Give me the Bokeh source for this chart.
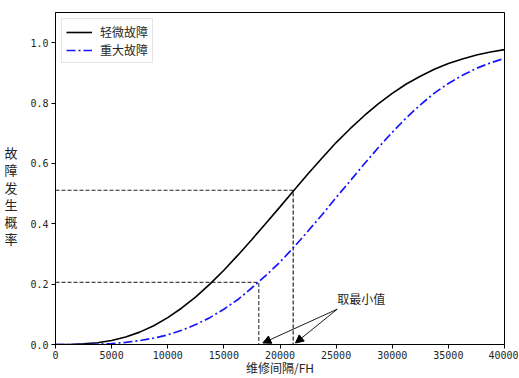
from bokeh.plotting import figure
from bokeh.models import (Range1d, Label, Arrow, NormalHead, Legend, LegendItem,
                          FixedTicker, PrintfTickFormatter, ColumnDataSource)
from bokeh.embed import file_html
from bokeh.resources import INLINE

# ---------------- data ----------------
interval = [0, 1250, 2500, 3750, 5000, 6250, 7500, 8750, 10000, 11250, 12500,
            13750, 15000, 16250, 17500, 18750, 20000, 21250, 22500, 23750, 25000,
            26250, 27500, 28750, 30000, 31250, 32500, 33750, 35000, 36250, 37500,
            38750, 40000]
minor_fault = [0.0, 0.000, 0.002, 0.006, 0.013, 0.025, 0.041, 0.062, 0.089, 0.121,
               0.158, 0.200, 0.246, 0.296, 0.348, 0.402, 0.456, 0.511, 0.566, 0.618,
               0.669, 0.715, 0.758, 0.797, 0.832, 0.863, 0.889, 0.912, 0.931, 0.946,
               0.959, 0.969, 0.977]
major_fault = [0.0, 0.000, 0.000, 0.001, 0.003, 0.007, 0.013, 0.021, 0.032, 0.047,
               0.066, 0.089, 0.117, 0.149, 0.188, 0.229, 0.273, 0.323, 0.376, 0.430,
               0.487, 0.542, 0.598, 0.652, 0.703, 0.751, 0.794, 0.833, 0.865, 0.892,
               0.915, 0.933, 0.948]
series_names = ["轻微故障", "重大故障"]

mark_x = [18110, 21175]          # chosen intervals (dashed guides)
mark_y = [0.206, 0.511]          # probabilities at these intervals
arrow_tip_x = [18470, 21380]
arrow_tip_y = [0.005, 0.005]
note_text = "取最小值"
note_x = 25100
note_y = 0.117

x_ticks = [0, 5000, 10000, 15000, 20000, 25000, 30000, 35000, 40000]
y_ticks = [0.0, 0.2, 0.4, 0.6, 0.8, 1.0]
x_title = "维修间隔/FH"
y_title = "故障发生概率"

CJK = "Noto Sans CJK SC"
NUM = "DejaVu Sans Mono"

p = figure(width=518, height=378, output_backend="svg", toolbar_location=None,
           x_range=Range1d(0, 40000), y_range=Range1d(0, 1.1),
           min_border_left=55, min_border_right=14, min_border_top=12,
           min_border_bottom=34)

p.xgrid.visible = False
p.ygrid.visible = False
p.outline_line_color = "black"
p.outline_line_width = 1
p.background_fill_color = "white"
p.border_fill_color = "white"

for ax in (p.xaxis[0], p.yaxis[0]):
    ax.axis_line_color = "black"
    ax.major_tick_in = 0
    ax.major_tick_out = 4
    ax.major_tick_line_color = "black"
    ax.minor_tick_line_color = None
    ax.major_label_text_font = NUM
    ax.major_label_text_font_size = "10px"
    ax.major_label_text_color = "#262626"
    ax.axis_label_text_font = CJK
    ax.axis_label_text_font_style = "normal"
    ax.axis_label_text_color = "#262626"

p.xaxis.major_label_standoff = 2
p.yaxis.major_label_standoff = 3

p.xaxis.ticker = FixedTicker(ticks=x_ticks)
p.yaxis.ticker = FixedTicker(ticks=y_ticks)
p.yaxis.formatter = PrintfTickFormatter(format="%.1f")

p.xaxis.axis_label = x_title
p.xaxis.axis_label_text_font_size = "12px"
p.xaxis.axis_label_standoff = -3

# vertical stacked title, shifted down by two blank lines on top
p.yaxis.axis_label = " \n \n" + "\n".join(y_title)
p.yaxis.axis_label_text_font_size = "13px"
p.yaxis.axis_label_text_line_height = 0.9
p.yaxis.axis_label_standoff = 10
try:
    p.yaxis[0].axis_label_orientation = "horizontal"
except Exception:
    pass

src = ColumnDataSource(dict(x=interval, a=minor_fault, b=major_fault))

# dashed guide lines
guide_colors = ["#444444", "#222222"]
for gx, gy, gc in zip(mark_x, mark_y, guide_colors):
    p.line(x=[0, gx, gx], y=[gy, gy, 0], line_color=gc, line_width=1.2,
           line_dash="4 2")

r1 = p.line("x", "a", source=src, line_color="black", line_width=1.6)
r2 = p.line("x", "b", source=src, line_color="#1515ff", line_width=1.7,
            line_dash="9 3 2 3")

legend = Legend(items=[LegendItem(label=series_names[0], renderers=[r1]),
                       LegendItem(label=series_names[1], renderers=[r2])],
                location="top_left")
legend.margin = 6
legend.padding = 4
legend.spacing = 1
legend.label_height = 16
legend.glyph_height = 16
legend.glyph_width = 26
legend.label_standoff = 8
legend.label_text_font = CJK
legend.label_text_font_size = "12px"
legend.label_text_color = "#262626"
legend.border_line_color = "#cccccc"
legend.border_line_width = 1
legend.background_fill_alpha = 0.8
p.add_layout(legend)

# annotation arrows
for tx, ty in zip(arrow_tip_x, arrow_tip_y):
    p.add_layout(Arrow(end=NormalHead(size=8, fill_color="black", line_color="black",
                                      line_width=1),
                       x_start=note_x, y_start=note_y, x_end=tx, y_end=ty,
                       line_color="black", line_width=0.9))

p.add_layout(Label(x=note_x, y=note_y + 0.035, text=note_text, text_font=CJK,
                   text_font_size="12px", text_color="#262626",
                   text_align="left", text_baseline="middle"))

open("out.html", "w").write(file_html(p, INLINE))
